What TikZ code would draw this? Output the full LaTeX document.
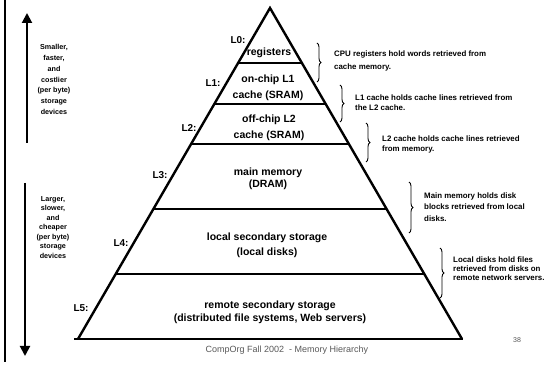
\documentclass[tikz,border=0pt]{standalone}
\usepackage{fontspec}
\setmainfont{Liberation Sans}
\usetikzlibrary{arrows.meta,decorations.pathreplacing,calc}
\begin{document}
\begin{tikzpicture}[x=1pt,y=-1pt,
  lvl/.style={font=\bfseries\fontsize{10.5}{16}\selectfont, align=center, inner sep=0pt},
  lab/.style={font=\bfseries\fontsize{10}{12}\selectfont, inner sep=0pt},
  note/.style={font=\bfseries\fontsize{7.9}{10}\selectfont, align=left, anchor=west, inner sep=0pt},
  side/.style={font=\bfseries\fontsize{7.2}{10.8}\selectfont, align=center, inner sep=0pt},
  foot/.style={font=\fontsize{9}{10}\selectfont, text=black!65, inner sep=0pt},
  edgeline/.style={line width=2.4pt, line join=miter},
  sepline/.style={line width=1.6pt},
  brc/.style={decorate, decoration={brace, amplitude=4pt}, line width=0.9pt},
  arr/.style={line width=2pt, -{Triangle[width=10pt,length=10pt]}},
]
\useasboundingbox (0,0) rectangle (547,366);
\fill[white] (0,0) rectangle (547,366);

% frame line at the left
\coordinate (fa) at (5,0);
\coordinate (fb) at (5,362);
\draw[line width=2pt] (fa) -- (fb);

% pyramid
\coordinate (apex) at (270,8);
\coordinate (lf) at (78,339);
\coordinate (rf) at (462,339);
\coordinate (bl) at (74,339);
\coordinate (br) at (463,339);
\draw[sepline] (bl) -- (br);
\draw[edgeline] (lf) -- (apex) -- (rf);

\foreach \t/\n in {0.1662/a, 0.2900/b, 0.4109/c, 0.6073/d, 0.8036/e} {
  \coordinate (l\n) at ($(apex)!\t!(lf)$);
  \coordinate (r\n) at ($(apex)!\t!(rf)$);
  \draw[sepline] (l\n) -- (r\n);
}

% level texts
\node[lvl] (reg) at (269,53) {registers};
\node[lvl] (onchip) at (268,88) {on-chip L1\\cache (SRAM)};
\node[lvl] (offchip) at (269,128) {off-chip L2\\cache (SRAM)};
\node[lvl, font=\bfseries\fontsize{10.5}{12.5}\selectfont] (mainmem) at (268,179) {main memory\\(DRAM)};
\node[lvl, font=\bfseries\fontsize{10.5}{15}\selectfont] (local) at (267,245.5) {local secondary storage\\(local disks)};
\node[lvl, font=\bfseries\fontsize{10.5}{13}\selectfont] (remote) at (270,312.5) {remote secondary storage\\(distributed file systems, Web servers)};

% level labels
\node[lab] (L0) at (238,40) {L0:};
\node[lab] (L1) at (213,83) {L1:};
\node[lab] (L2) at (189,128) {L2:};
\node[lab] (L3) at (160,175) {L3:};
\node[lab] (L4) at (121,243) {L4:};
\node[lab] (L5) at (81,308) {L5:};

% braces
\coordinate (b1a) at (317,43);  \coordinate (b1b) at (317,82);
\coordinate (b2a) at (340,85);  \coordinate (b2b) at (340,122);
\coordinate (b3a) at (366,123); \coordinate (b3b) at (366,162);
\coordinate (b4a) at (409,182); \coordinate (b4b) at (409,233);
\coordinate (b5a) at (440,248); \coordinate (b5b) at (440,298);
\draw[brc] (b1a) -- (b1b);
\draw[brc] (b2a) -- (b2b);
\draw[brc] (b3a) -- (b3b);
\draw[brc] (b4a) -- (b4b);
\draw[brc] (b5a) -- (b5b);

% notes
\node[note, font=\bfseries\fontsize{7.9}{13.5}\selectfont] (n1) at (334,61) {CPU registers hold words retrieved from\\cache memory.};
\node[note] (n2) at (355,103) {L1 cache holds cache lines retrieved from\\the L2 cache.};
\node[note] (n3) at (382,144) {L2 cache holds cache lines retrieved\\from memory.};
\node[note, font=\bfseries\fontsize{7.9}{11.5}\selectfont] (n4) at (424,207) {Main memory holds disk\\blocks retrieved from local\\disks.};
\node[note, font=\bfseries\fontsize{7.9}{9}\selectfont] (n5) at (453,269) {Local disks hold files\\retrieved from disks on\\remote network servers.};

% side arrows and texts
\coordinate (ua) at (27,143);
\coordinate (ub) at (27,13);
\draw[arr] (ua) -- (ub);
\coordinate (da) at (25,183);
\coordinate (db) at (25,356);
\draw[arr] (da) -- (db);
\node[side] (up) at (54,79.5) {Smaller,\\faster,\\and\\costlier\\(per byte)\\storage\\devices};
\node[side, font=\bfseries\fontsize{7.2}{9.5}\selectfont] (down) at (53,227.5) {Larger,\\slower,\\and\\cheaper\\(per byte)\\storage\\devices};

% footer
\node[foot] (footer) at (287,350) {CompOrg Fall 2002\ \ - Memory Hierarchy};
\node[foot, font=\fontsize{7}{8}\selectfont] (page) at (517,340) {38};
\end{tikzpicture}
\end{document}
